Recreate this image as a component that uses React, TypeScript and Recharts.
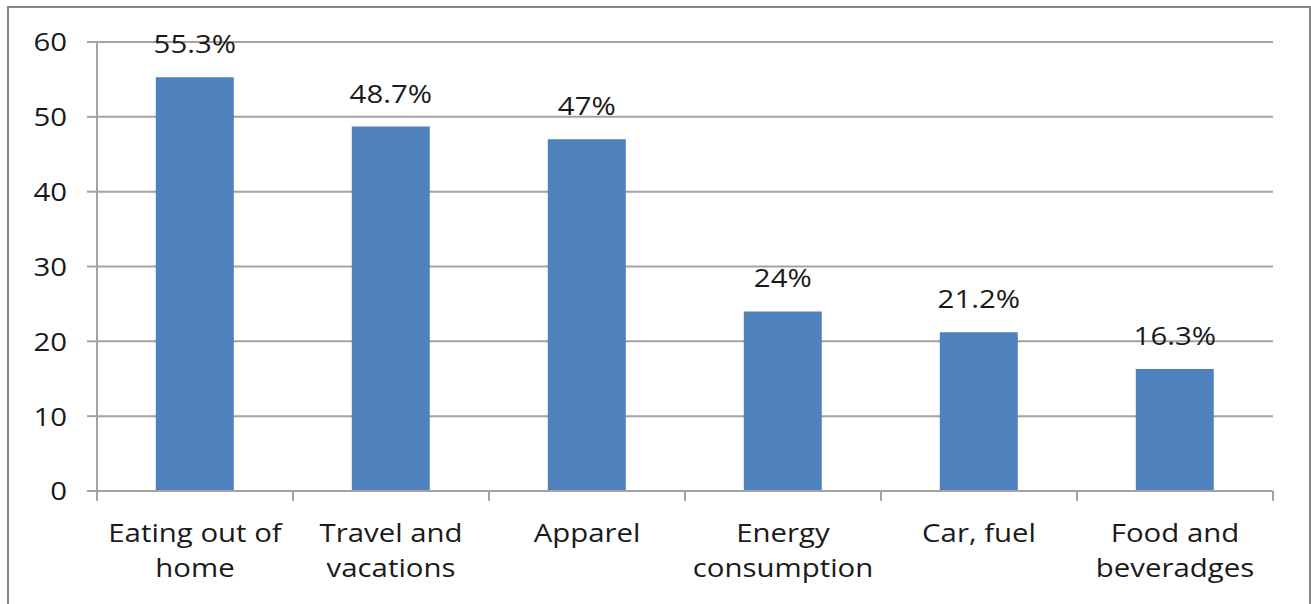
import { BarChart, Bar, XAxis, YAxis, CartesianGrid, LabelList } from 'recharts';

const categories = [
  'Eating out of\nhome',
  'Travel and\nvacations',
  'Apparel',
  'Energy\nconsumption',
  'Car, fuel',
  'Food and\nbeveradges',
];
const shares = [55.3, 48.7, 47, 24, 21.2, 16.3];
const yTicks = [0, 10, 20, 30, 40, 50, 60];

const data = categories.map((name, i) => ({ name, share: shares[i] }));

const WIDTH = 1311;
const HEIGHT = 604;
const MARGIN = { top: 42, right: 38, bottom: 0, left: 0 };
const Y_AXIS_W = 97;
const X_AXIS_H = 113;
const BAND = (WIDTH - MARGIN.left - MARGIN.right - Y_AXIS_W) / categories.length;

const FONT = '"Open Sans", sans-serif';
const TEXT = '#1a1a1a';
const LINE = '#a3a3a3';
const BAR = '#4f81bd';
const STRETCH = 1.13;

// category labels, plus tick marks between the bands
const CategoryTick = (props: any) => {
  const { x, y, payload, index } = props;
  const half = BAND / 2;
  const lines = String(payload.value).split('\n');
  return (
    <g>
      <line x1={x - half} x2={x - half} y1={y - 10} y2={y} stroke={LINE} strokeWidth={2} />
      {index === categories.length - 1 && (
        <line x1={x + half} x2={x + half} y1={y - 10} y2={y} stroke={LINE} strokeWidth={2} />
      )}
      <g transform={`translate(${x},${y + 41}) scale(${STRETCH},1)`}>
        <text textAnchor="middle" fontSize={26} fill={TEXT} fontFamily={FONT}>
          {lines.map((l, i) => (
            <tspan key={i} x={0} dy={i === 0 ? 0 : 35}>
              {l}
            </tspan>
          ))}
        </text>
      </g>
    </g>
  );
};

const ValueTick = (props: any) => {
  const { x, y, payload } = props;
  return (
    <g transform={`translate(${x},${y}) scale(${STRETCH},1)`}>
      <text textAnchor="end" dy="0.36em" fontSize={26} fill={TEXT} fontFamily={FONT}>
        {payload.value}
      </text>
    </g>
  );
};

const ShareLabel = (props: any) => {
  const { x, y, width, value } = props;
  return (
    <g transform={`translate(${x + width / 2},${y - 24}) scale(${STRETCH},1)`}>
      <text textAnchor="middle" fontSize={26} fill={TEXT} fontFamily={FONT}>
        {`${value}%`}
      </text>
    </g>
  );
};

export default function App() {
  return (
    <div
      style={{
        position: 'absolute',
        left: 0,
        top: 0,
        width: WIDTH,
        height: HEIGHT,
        background: '#fff',
        overflow: 'hidden',
      }}
    >
      <div
        style={{
          position: 'absolute',
          left: 7,
          top: 6,
          width: 1300,
          height: 700,
          border: '2px solid #858585',
        }}
      />
      <div style={{ position: 'absolute', left: 0, top: 0 }}>
        <BarChart width={WIDTH} height={HEIGHT} data={data} margin={MARGIN} barCategoryGap="30%">
          <CartesianGrid vertical={false} stroke={LINE} strokeWidth={2} />
          <XAxis
            dataKey="name"
            height={X_AXIS_H}
            interval={0}
            tickLine={false}
            tickSize={10}
            tickMargin={0}
            axisLine={{ stroke: LINE, strokeWidth: 2 }}
            tick={<CategoryTick />}
          />
          <YAxis
            width={Y_AXIS_W}
            domain={[0, 60]}
            ticks={yTicks}
            interval={0}
            tickSize={10}
            tickMargin={20}
            tickLine={{ stroke: LINE, strokeWidth: 2 }}
            axisLine={{ stroke: LINE, strokeWidth: 2 }}
            tick={<ValueTick />}
          />
          <Bar dataKey="share" fill={BAR} isAnimationActive={false}>
            <LabelList dataKey="share" content={<ShareLabel />} />
          </Bar>
        </BarChart>
      </div>
    </div>
  );
}
